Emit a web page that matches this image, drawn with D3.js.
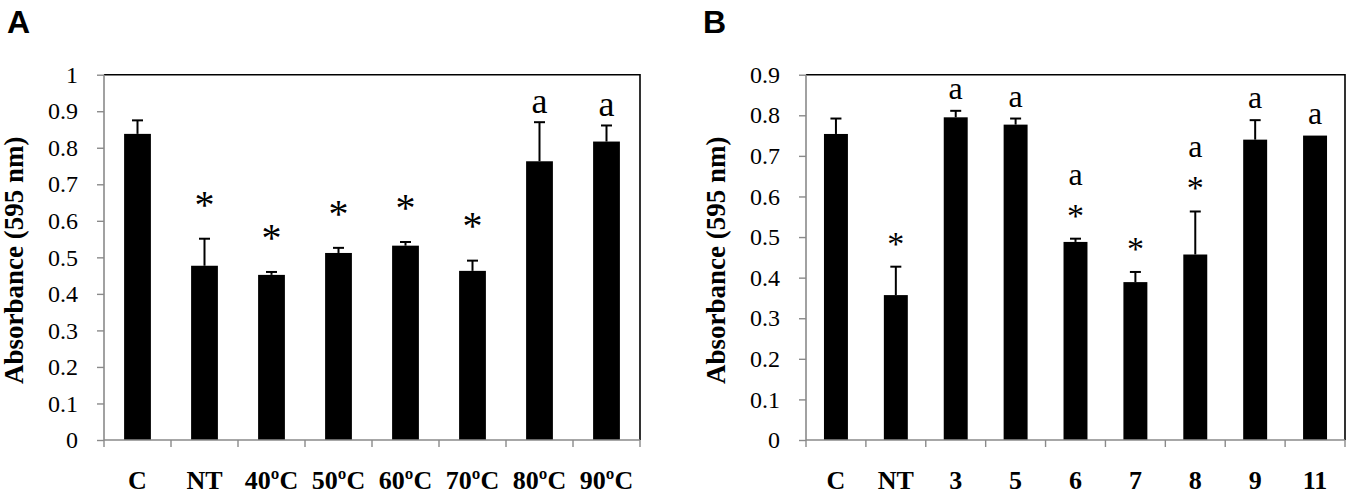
<!DOCTYPE html>
<html>
<head>
<meta charset="utf-8">
<script src="https://cdn.jsdelivr.net/npm/d3@7"></script>
<style>
  html, body { margin: 0; padding: 0; background: #fff; }
  svg { display: block; }
  .serif { font-family: "Liberation Serif", "Times New Roman", Times, serif; }
  .sans { font-family: "Liberation Sans", Arial, Helvetica, sans-serif; }
</style>
</head>
<body>
<svg id="chart" width="1350" height="495"></svg>
<script>
// ---------- Data ----------
const catsA = ["C", "NT", "40ºC", "50ºC", "60ºC", "70ºC", "80ºC", "90ºC"];
const valuesA = [0.838, 0.477, 0.452, 0.512, 0.532, 0.463, 0.763, 0.817];
const errorsA = [0.037, 0.074, 0.008, 0.014, 0.010, 0.028, 0.107, 0.044];
const starA = [false, true, true, true, true, true, false, false];
const letterA = ["", "", "", "", "", "", "a", "a"];
const ticksA = [0, 0.1, 0.2, 0.3, 0.4, 0.5, 0.6, 0.7, 0.8, 0.9, 1];

const catsB = ["C", "NT", "3", "5", "6", "7", "8", "9", "11"];
const valuesB = [0.754, 0.357, 0.795, 0.777, 0.488, 0.389, 0.457, 0.740, 0.750];
const errorsB = [0.038, 0.070, 0.016, 0.015, 0.008, 0.025, 0.106, 0.048, 0.000];
const starB = [false, true, false, false, true, true, true, false, false];
const letterB = ["", "", "a", "a", "a", "", "a", "a", "a"];
const ticksB = [0, 0.1, 0.2, 0.3, 0.4, 0.5, 0.6, 0.7, 0.8, 0.9];

const yTitle = "Absorbance (595 nm)";

// ---------- Drawing ----------
const svg = d3.select("#chart");
const axisColor = "#8a8a8a";

function panel(opt) {
  const g = svg.append("g");
  const { left, right, top, bottom } = opt;

  const x = d3.scaleBand().domain(opt.cats).range([left, right])
    .paddingInner(0.6).paddingOuter(0.3);
  const y = d3.scaleLinear().domain([0, opt.ymax]).range([bottom, top]);
  const step = x.step();

  // Panel letter
  g.append("text")
    .attr("class", "sans")
    .attr("x", opt.letterX).attr("y", 33)
    .style("font-weight", "bold")
    .style("font-size", "32px").attr("fill", "#000")
    .text(opt.letter);

  // Plot border (top & right black)
  g.append("path")
    .attr("d", `M${left},${top}H${right}V${bottom}`)
    .attr("fill", "none").attr("stroke", "#000").attr("stroke-width", 1.6);

  // Bars
  g.selectAll("rect.bar").data(opt.values).join("rect")
    .attr("class", "bar")
    .attr("x", (d, i) => x(opt.cats[i]))
    .attr("y", d => y(d))
    .attr("width", x.bandwidth())
    .attr("height", d => y(0) - y(d))
    .attr("fill", "#000");

  // Error bars (upper only)
  const capHalf = 5.5;
  opt.values.forEach((v, i) => {
    const e = opt.errors[i];
    if (e <= 0) return;
    const cx = x(opt.cats[i]) + x.bandwidth() / 2;
    g.append("line")
      .attr("x1", cx).attr("x2", cx)
      .attr("y1", y(v)).attr("y2", y(v + e))
      .attr("stroke", "#000").attr("stroke-width", 2);
    g.append("line")
      .attr("x1", cx - capHalf).attr("x2", cx + capHalf)
      .attr("y1", y(v + e)).attr("y2", y(v + e))
      .attr("stroke", "#000").attr("stroke-width", 2);
  });

  // Annotations
  opt.values.forEach((v, i) => {
    const cx = x(opt.cats[i]) + x.bandwidth() / 2;
    const topPx = y(v + opt.errors[i]);
    let aBase;
    if (opt.stars[i]) {
      const starCenter = topPx - opt.starGap;
      g.append("text")
        .attr("class", "serif")
        .attr("x", cx).attr("y", starCenter + 0.47 * opt.starSize)
        .attr("text-anchor", "middle")
        .style("font-size", opt.starSize + "px")
        .attr("fill", "#000").text("*");
      aBase = starCenter - opt.aAboveStar;
    } else {
      aBase = topPx - opt.aGap;
    }
    if (opt.letters[i]) {
      g.append("text")
        .attr("class", "serif")
        .attr("x", cx).attr("y", aBase)
        .attr("text-anchor", "middle")
        .style("font-size", opt.aSize + "px")
        .attr("fill", "#000").text(opt.letters[i]);
    }
  });

  // Y axis
  const yAxis = d3.axisLeft(y).tickValues(opt.ticks).tickSize(7).tickPadding(19)
    .tickFormat(d => d === 0 ? "0" : (d === 1 ? "1" : d3.format(".1f")(d)));
  const ya = g.append("g").attr("transform", `translate(${left},0)`).call(yAxis);
  ya.attr("font-family", null).attr("font-size", null);
  ya.select(".domain").attr("stroke", axisColor).attr("stroke-width", 1.6)
    .attr("d", `M0,${top}V${bottom}`);
  ya.selectAll(".tick line").attr("stroke", axisColor).attr("stroke-width", 1.4);
  ya.selectAll(".tick text").attr("class", "serif").attr("fill", "#000")
    .style("font-size", "24px");

  // X axis (category boundaries ticks)
  const xa = g.append("g");
  xa.append("line")
    .attr("x1", left).attr("x2", right).attr("y1", bottom).attr("y2", bottom)
    .attr("stroke", axisColor).attr("stroke-width", 1.6);
  const bounds = opt.cats.map(c => x(c) + x.bandwidth() / 2 - step / 2);
  bounds.push(right);
  xa.selectAll("line.tk").data(bounds).join("line")
    .attr("class", "tk")
    .attr("x1", d => d).attr("x2", d => d)
    .attr("y1", bottom).attr("y2", bottom + 7)
    .attr("stroke", axisColor).attr("stroke-width", 1.4);
  xa.selectAll("text").data(opt.cats).join("text")
    .attr("class", "serif")
    .attr("x", d => x(d) + x.bandwidth() / 2)
    .attr("y", 489)
    .attr("text-anchor", "middle")
    .style("font-weight", "bold")
    .style("font-size", "26px").attr("fill", "#000")
    .text(d => d);

  // Y title
  g.append("text")
    .attr("class", "serif")
    .attr("transform", `translate(${opt.titleX},${(top + bottom) / 2 + 3}) rotate(-90)`)
    .attr("text-anchor", "middle")
    .style("font-weight", "bold")
    .style("font-size", "27px").attr("fill", "#000")
    .text(yTitle);
}

panel({
  cats: catsA, values: valuesA, errors: errorsA, stars: starA, letters: letterA,
  ticks: ticksA, ymax: 1.0,
  left: 104, right: 640, top: 74.7, bottom: 440,
  letter: "A", letterX: 7, titleX: 23,
  starSize: 40, starGap: 40, aSize: 36, aGap: 9, aAboveStar: 26
});

panel({
  cats: catsB, values: valuesB, errors: errorsB, stars: starB, letters: letterB,
  ticks: ticksB, ymax: 0.9,
  left: 806, right: 1345, top: 74.7, bottom: 440,
  letter: "B", letterX: 703, titleX: 725,
  starSize: 34, starGap: 28, aSize: 32, aGap: 12, aAboveStar: 26
});
</script>
</body>
</html>
